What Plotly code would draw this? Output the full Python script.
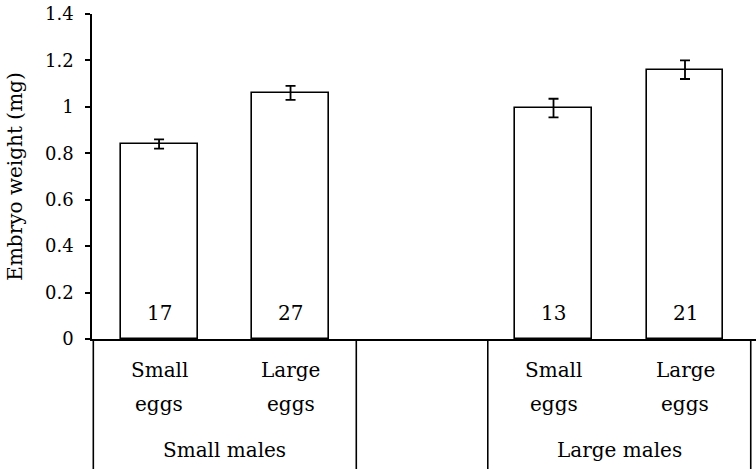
import plotly.graph_objects as go

# data
male_groups = ["Small males", "Large males"]
egg_top = ["Small", "Large"]
egg_bottom = ["eggs", "eggs"]
weights = [0.84, 1.06, 0.995, 1.16]
errors = [0.02, 0.03, 0.04, 0.04]
counts = [17, 27, 13, 21]
y_ticks = [0, 0.2, 0.4, 0.6, 0.8, 1.0, 1.2, 1.4]
y_ticktext = ["0", "0.2", "0.4", "0.6", "0.8", "1", "1.2", "1.4"]

FONT = "DejaVu Serif"
FS = 20

# two bars per male group, one empty slot between groups
per_group = len(egg_top)
xpos = [g * (per_group + 1) + e for g in range(len(male_groups)) for e in range(per_group)]

fig = go.Figure()
fig.add_trace(go.Bar(
    x=xpos, y=weights,
    width=0.585,
    marker=dict(color="white", line=dict(color="black", width=1.6)),
    error_y=dict(type="data", array=errors, color="black", thickness=1.8, width=5),
    showlegend=False, hoverinfo="skip",
))

def label(x, text, yref, yshift):
    return dict(x=x, y=0, xref="x", yref=yref, text=text, showarrow=False,
                yanchor="middle", yshift=yshift, font=dict(family=FONT, size=FS, color="black"))

annotations = []
for x, n in zip(xpos, counts):
    annotations.append(label(x, str(n), "y", 26))
for i, x in enumerate(xpos):
    e = i % per_group
    annotations.append(label(x, egg_top[e], "paper", -31))
    annotations.append(label(x, egg_bottom[e], "paper", -65))

shapes = []
for g, name in enumerate(male_groups):
    xs = xpos[g * per_group:(g + 1) * per_group]
    annotations.append(label(sum(xs) / len(xs), name, "paper", -111))
    for b in (xs[0] - 0.5, xs[-1] + 0.5):
        shapes.append(dict(type="line", xref="x", yref="paper", x0=b, x1=b, y0=0, y1=-0.5,
                           line=dict(color="black", width=1.6)))

fig.update_layout(
    width=756, height=469,
    margin=dict(l=92, r=0, t=14, b=130),
    paper_bgcolor="white", plot_bgcolor="white",
    font=dict(family=FONT, size=FS, color="black"),
    bargap=0,
    annotations=annotations,
    shapes=shapes,
    xaxis=dict(range=[-0.51, xpos[-1] + 0.54], showticklabels=False, ticks="", automargin=False,
               showline=True, linecolor="black", linewidth=1.6, showgrid=False, zeroline=False),
    yaxis=dict(range=[0, 1.4], tickvals=y_ticks, ticktext=y_ticktext, automargin=False,
               ticks="outside", ticklen=5, tickwidth=1.6, tickcolor="black",
               tickfont=dict(family=FONT, size=18),
               showline=True, linecolor="black", linewidth=1.6, showgrid=False, zeroline=False,
               ticklabelstandoff=8, ticklabeloverflow="allow",
               title=dict(text="Embryo weight (mg)", standoff=17, font=dict(family=FONT, size=FS))),
)

# drop the default 8px body margin so the figure sits at the page corner
fig.write_html("out.html", config={"displayModeBar": False},
               post_script="document.body.style.margin='0px';")
